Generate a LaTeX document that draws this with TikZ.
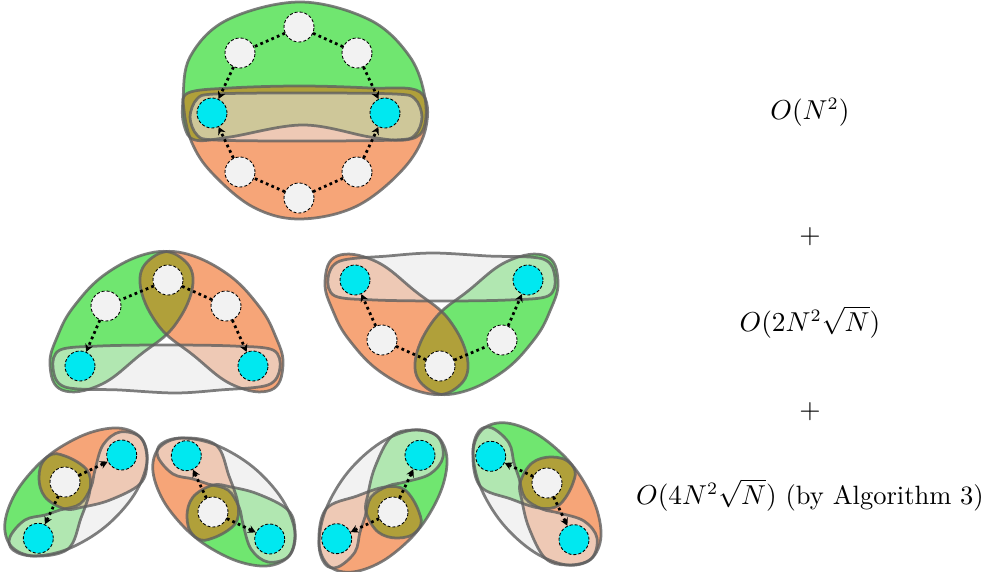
\documentclass[tikz,border=0pt]{standalone}
\usetikzlibrary{arrows.meta}
\definecolor{greenf}{RGB}{112,230,112}
\definecolor{orangef}{RGB}{246,165,120}
\definecolor{olivef}{RGB}{176,160,58}
\definecolor{grayf}{RGB}{232,232,232}
\definecolor{wfill}{RGB}{242,242,242}
\definecolor{cyanf}{RGB}{0,232,240}
\definecolor{edgec}{RGB}{95,95,95}
\tikzset{
  wnode/.style={circle, draw=black, dash pattern=on 1.2pt off 0.8pt, line width=0.35pt, fill=wfill, minimum size=12pt, inner sep=0pt},
  cnode/.style={wnode, fill=cyanf},
  lnk/.style={line width=1.1pt, dash pattern=on 1.1pt off 1.3pt, black},
  lnka/.style={lnk, -{Stealth[length=3pt,width=3.2pt]}},
  rim/.style={draw=edgec, line width=1.1pt, draw opacity=0.8},
  grayreg/.style={fill=grayf, fill opacity=0.55},
  txt/.style={font=\fontsize{10.6}{12.5}\selectfont, inner sep=0pt},
}
% top graph regions
\def\TopGreen{plot[smooth cycle, tension=0.6] coordinates {(183,100) (190,57) (227,20) (300,2) (370,20) (410,57) (425,98) (423,130) (405,140) (370,137) (303,125) (230,137) (195,140) (184,125)}}
\def\TopOrange{plot[smooth cycle, tension=0.6] coordinates {(184,110) (188,93) (230,88) (300,86) (370,88) (420,92) (426,127) (405,167) (357,206) (300,219) (253,207) (212,173) (192,143)}}
\def\TopSep{plot[smooth cycle, tension=0.55] coordinates {(190,117) (197,99) (215,94) (300,93) (395,94) (415,99) (422,117) (415,135) (395,140) (300,141) (215,140) (197,135)}}
% middle graph regions
\def\MidGreen{plot[smooth cycle, tension=0.7] coordinates {(62,390) (50,365) (58,335) (75,305) (107,273) (150,253) (180,257) (193,283) (175,325) (140,355) (100,385)}}
\def\MidOrange{plot[smooth cycle, tension=0.7] coordinates {(271,390) (283,365) (275,335) (258,305) (226,273) (183,253) (153,257) (140,283) (158,325) (193,355) (233,385)}}
\def\MidSep{plot[smooth cycle, tension=0.55] coordinates {(53,368) (60,350) (100,346) (166,345) (233,346) (273,350) (280,368) (268,385) (220,390) (175,393) (120,390) (65,387)}}
% small graph regions (relative to middle node)
\def\SGreen{plot[smooth cycle, tension=0.6] coordinates {(-18,-25) (0,-26) (22,-12) (25,8) (16,36) (3,67) (-31,74) (-54,64) (-60,40) (-47,7)}}
\def\SOrange{plot[smooth cycle, tension=0.6] coordinates {(-18,-25) (18.7,-47) (53,-54) (76,-44) (82,-20) (75,2) (45,18) (18,25) (0,27) (-20,15) (-26,-5)}}
\def\SGray{plot[smooth cycle, tension=0.6] coordinates {(-55,55) (-40,38) (-20,33) (-5,28) (15,22) (26,5) (30,-12) (38,-37) (55,-50) (76,-44) (82,-20) (69,13) (40,45) (3,67) (-31,74) (-52,68)}}

\newcommand\regions[3]{%
  \fill[greenf] #1;
  \fill[orangef] #2;
  \begin{scope}\clip #1; \fill[olivef] #2;\end{scope}
  \fill[grayreg] #3;
  \draw[rim] #1; \draw[rim] #2; \draw[rim] #3;
}
\newcommand\smallgraph[3]{%
  \fill[#2] \SGreen;
  \fill[#3] \SOrange;
  \begin{scope}\clip \SGreen; \fill[olivef] \SOrange;\end{scope}
  \fill[grayreg] \SGray;
  \draw[rim] \SGreen; \draw[rim] \SOrange; \draw[rim] \SGray;
  \node[cnode] (#1l) at (-26.7,56.3) {};
  \node[wnode] (#1w) at (0,0) {};
  \node[cnode] (#1u) at (56.7,-27) {};
  \draw[lnka] (#1w) -- (#1l);
  \draw[lnka] (#1w) -- (#1u);
}
\newcommand\midgraph[1]{%
  \regions{\MidGreen}{\MidOrange}{\MidSep}
  \node[wnode] (#1t) at (168,280) {};
  \node[wnode] (#1a) at (106,306) {};
  \node[wnode] (#1b) at (226,306) {};
  \node[cnode] (#1l) at (80,366) {};
  \node[cnode] (#1r) at (253,366) {};
  \draw[lnk] (#1t) -- (#1a);
  \draw[lnk] (#1t) -- (#1b);
  \draw[lnka] (#1a) -- (#1l);
  \draw[lnka] (#1b) -- (#1r);
}
\begin{document}
\begin{tikzpicture}[x=0.4pt, y=-0.4pt]
\useasboundingbox (0,0) rectangle (986,572);
% ---- top graph
\regions{\TopGreen}{\TopOrange}{\TopSep}
\node[wnode] (t1) at (299,27) {};
\node[wnode] (t2) at (240,53) {};
\node[wnode] (t3) at (357,53) {};
\node[cnode] (cl) at (212,113) {};
\node[cnode] (cr) at (385,113) {};
\node[wnode] (b2) at (240,172) {};
\node[wnode] (b3) at (357,172) {};
\node[wnode] (b1) at (299,198) {};
\draw[lnk] (t1) -- (t2);
\draw[lnk] (t1) -- (t3);
\draw[lnka] (t2) -- (cl);
\draw[lnka] (t3) -- (cr);
\draw[lnka] (b2) -- (cl);
\draw[lnka] (b3) -- (cr);
\draw[lnk] (b1) -- (b2);
\draw[lnk] (b1) -- (b3);
% ---- middle graphs
\midgraph{m}
\begin{scope}[shift={(608,646)}, rotate=180]
\midgraph{n}
\end{scope}
% ---- bottom graphs
\begin{scope}[shift={(65,482)}]
\smallgraph{a}{greenf}{orangef}
\end{scope}
\begin{scope}[shift={(213,512)}, yscale=-1]
\smallgraph{b}{orangef}{greenf}
\end{scope}
\begin{scope}[shift={(393,512)}, cm={0,1,1,0,(0,0)}]
\smallgraph{c}{orangef}{greenf}
\end{scope}
\begin{scope}[shift={(547,483)}, rotate=-90]
\smallgraph{d}{greenf}{orangef}
\end{scope}
% ---- text
\node[txt] (c1) at (810,112) {$O(N^2)$};
\node[txt] (p1) at (810,237) {$+$};
\node[txt] (c2) at (810,322) {$O(2N^2\sqrt{N})$};
\node[txt] (p2) at (810,412) {$+$};
\node[txt] (c3) at (810,495) {$O(4N^2\sqrt{N})$ (by Algorithm 3)};
\end{tikzpicture}
\end{document}
